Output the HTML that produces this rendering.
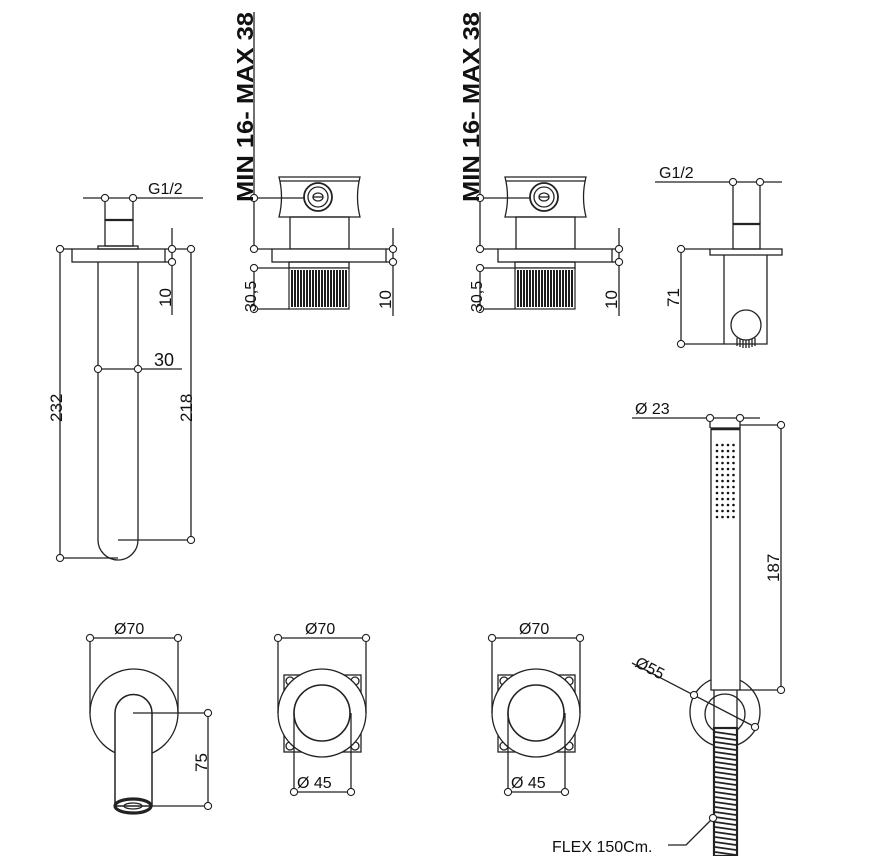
<!DOCTYPE html>
<html><head><meta charset="utf-8"><style>
html,body{margin:0;padding:0;background:#fff}
svg{display:block}
text{font-family:"Liberation Sans",sans-serif;fill:#111}
</style></head><body>
<svg width="888" height="856" viewBox="0 0 888 856" xmlns="http://www.w3.org/2000/svg">
<defs>
<g id="dot"><circle r="3.6" fill="#fff" stroke="#222" stroke-width="1.1"/></g>
<g id="thread">
  <rect x="0" y="0" width="60" height="41" fill="#fff" stroke="#222" stroke-width="1.2"/>
  <path d="M3 2V39M6 2V39M9 2V39M12 2V39M15 2V39M18 2V39M21 2V39M24 2V39M27 2V39M30 2V39M33 2V39M36 2V39M39 2V39M42 2V39M45 2V39M48 2V39M51 2V39M54 2V39M57 2V39" stroke="#111" stroke-width="1.9"/>
</g>
<g id="valve" fill="none" stroke="#222" stroke-width="1.3">
  <path d="M279 177H360Q355 197 360 217H279Q284 197 279 177Z" fill="#fff"/>
  <line x1="280" y1="181" x2="359" y2="181"/>
  <circle cx="318" cy="197" r="14" stroke-width="1.8"/>
  <circle cx="318" cy="197" r="10"/>
  <ellipse cx="318" cy="197" rx="5" ry="4"/>
  <line x1="313" y1="197" x2="323" y2="197"/>
  <rect x="290" y="217" width="59" height="32"/>
  <rect x="272" y="249" width="114" height="13" fill="#fff"/>
  <rect x="289" y="262" width="60" height="6"/>
  <use href="#thread" x="289" y="268"/>
  <line x1="254" y1="12" x2="254" y2="249"/>
  <line x1="254" y1="198" x2="305" y2="198"/>
  <line x1="254" y1="249" x2="272" y2="249"/>
  <line x1="254" y1="268" x2="289" y2="268"/>
  <line x1="254" y1="309" x2="289" y2="309"/>
  <line x1="254" y1="268" x2="254" y2="309"/>
  <line x1="386" y1="249" x2="393" y2="249"/>
  <line x1="386" y1="262" x2="393" y2="262"/>
  <line x1="393" y1="228" x2="393" y2="316"/>
  <use href="#dot" x="254" y="198"/><use href="#dot" x="254" y="249"/>
  <use href="#dot" x="254" y="268"/><use href="#dot" x="254" y="309"/>
  <use href="#dot" x="393" y="249"/><use href="#dot" x="393" y="262"/>
</g>
<g id="vfront" fill="none" stroke="#222" stroke-width="1.3">
  <rect x="-38" y="-38" width="77" height="77"/>
  <circle cx="-32" cy="-32" r="4"/><circle cx="33" cy="-32" r="4"/>
  <circle cx="-32" cy="33" r="4"/><circle cx="33" cy="33" r="4"/>
  <circle cx="0" cy="0" r="44" fill="#fff"/>
  <circle cx="0" cy="0" r="28" stroke-width="1.6"/>
  <line x1="-44" y1="-75" x2="-44" y2="0"/><line x1="44" y1="-75" x2="44" y2="0"/>
  <line x1="-44" y1="-75" x2="44" y2="-75"/>
  <line x1="-28" y1="0" x2="-28" y2="79"/><line x1="29" y1="0" x2="29" y2="79"/>
  <line x1="-28" y1="79" x2="29" y2="79"/>
  <use href="#dot" x="-44" y="-75"/><use href="#dot" x="44" y="-75"/>
  <use href="#dot" x="-28" y="79"/><use href="#dot" x="29" y="79"/>
</g>
</defs>

<g fill="none" stroke="#222" stroke-width="1.3">
  <line x1="83" y1="198" x2="203" y2="198"/>
  <line x1="105" y1="198" x2="105" y2="220"/><line x1="133" y1="198" x2="133" y2="220"/>
  <rect x="105" y="220" width="28" height="26"/>
  <line x1="105" y1="220" x2="133" y2="220" stroke-width="2.2"/>
  <rect x="98" y="246" width="40" height="3"/>
  <rect x="72" y="249" width="93" height="13"/>
  <path d="M98 262V540A20 20 0 0 0 138 540V262"/>
  <line x1="60" y1="249" x2="72" y2="249"/>
  <line x1="60" y1="249" x2="60" y2="558"/>
  <line x1="60" y1="558" x2="118" y2="558"/>
  <line x1="165" y1="249" x2="191" y2="249"/>
  <line x1="165" y1="262" x2="172" y2="262"/>
  <line x1="172" y1="228" x2="172" y2="315"/>
  <line x1="191" y1="249" x2="191" y2="540"/>
  <line x1="118" y1="540" x2="191" y2="540"/>
  <line x1="98" y1="369" x2="182" y2="369"/>
  <use href="#dot" x="105" y="198"/><use href="#dot" x="133" y="198"/>
  <use href="#dot" x="60" y="249"/><use href="#dot" x="60" y="558"/>
  <use href="#dot" x="172" y="249"/><use href="#dot" x="172" y="262"/>
  <use href="#dot" x="191" y="249"/><use href="#dot" x="191" y="540"/>
  <use href="#dot" x="98" y="369"/><use href="#dot" x="138" y="369"/>
</g>
<text x="148" y="194" font-size="16">G1/2</text>
<text x="154" y="366" font-size="18">30</text>
<text transform="translate(62,422) rotate(-90)" font-size="17">232</text>
<text transform="translate(192,422) rotate(-90)" font-size="17">218</text>
<text transform="translate(171,307) rotate(-90)" font-size="17">10</text>

<use href="#valve"/>
<use href="#valve" x="226"/>
<text transform="translate(253,202) rotate(-90)" font-size="23" font-weight="bold" textLength="190" lengthAdjust="spacingAndGlyphs">MIN 16- MAX 38</text>
<text transform="translate(479,202) rotate(-90)" font-size="23" font-weight="bold" textLength="190" lengthAdjust="spacingAndGlyphs">MIN 16- MAX 38</text>
<text transform="translate(256,312) rotate(-90)" font-size="16">30,5</text>
<text transform="translate(482,312) rotate(-90)" font-size="16">30,5</text>
<text transform="translate(391,309) rotate(-90)" font-size="17">10</text>
<text transform="translate(617,309) rotate(-90)" font-size="17">10</text>

<g fill="none" stroke="#222" stroke-width="1.3">
  <line x1="655" y1="182" x2="782" y2="182"/>
  <line x1="733" y1="182" x2="733" y2="224"/><line x1="760" y1="182" x2="760" y2="224"/>
  <rect x="733" y="224" width="27" height="25"/>
  <line x1="733" y1="224" x2="760" y2="224" stroke-width="2.2"/>
  <rect x="710" y="249" width="72" height="6"/>
  <path d="M724 255V344H767V255"/>
  <circle cx="746" cy="325" r="15" fill="#fff"/>
  <path d="M737 338V346M740 339V347M743 340V348M746 340V348M749 340V348M752 339V347M755 338V346" stroke-width="1.3"/>
  <line x1="681" y1="249" x2="710" y2="249"/>
  <line x1="681" y1="344" x2="724" y2="344"/>
  <line x1="681" y1="249" x2="681" y2="344"/>
  <use href="#dot" x="733" y="182"/><use href="#dot" x="760" y="182"/>
  <use href="#dot" x="681" y="249"/><use href="#dot" x="681" y="344"/>
</g>
<text x="659" y="178" font-size="16">G1/2</text>
<text transform="translate(679,307) rotate(-90)" font-size="17">71</text>

<g fill="none" stroke="#222" stroke-width="1.3">
  <line x1="632" y1="418" x2="760" y2="418"/>
  <line x1="710" y1="418" x2="710" y2="428"/><line x1="740" y1="418" x2="740" y2="428"/>
  <circle cx="725" cy="712" r="35"/>
  <circle cx="725" cy="714" r="20"/>
  <rect x="711" y="428" width="29" height="262" fill="#fff"/>
  <line x1="711" y1="429" x2="740" y2="429" stroke-width="2.5"/>
  <path d="M714 690V728M737 690V728"/>
  <line x1="740" y1="425" x2="781" y2="425"/>
  <line x1="740" y1="690" x2="781" y2="690"/>
  <line x1="781" y1="425" x2="781" y2="690"/>
  <line x1="632" y1="663" x2="757" y2="728"/>
  <use href="#dot" x="710" y="418"/><use href="#dot" x="740" y="418"/>
  <use href="#dot" x="781" y="425"/><use href="#dot" x="781" y="690"/>
  <use href="#dot" x="694" y="695"/><use href="#dot" x="755" y="727"/>
  <rect x="714" y="728" width="23" height="128" stroke-width="2.2" fill="#fff"/>
  <path d="M715 732L736 735M715 737L736 740M715 742L736 745M715 747L736 750M715 752L736 755M715 757L736 760M715 762L736 765M715 767L736 770M715 772L736 775M715 777L736 780M715 782L736 785M715 787L736 790M715 792L736 795M715 797L736 800M715 802L736 805M715 807L736 810M715 812L736 815M715 817L736 820M715 822L736 825M715 827L736 830M715 832L736 835M715 837L736 840M715 842L736 845M715 847L736 850M715 852L736 855" stroke-width="1.8"/>
  <path d="M668 845H686L713 818"/>
  <use href="#dot" x="713" y="818"/>
</g>
<g fill="#111">
  <g id="dr"><circle cx="717" cy="445" r="1.3"/><circle cx="722.5" cy="445" r="1.3"/><circle cx="728" cy="445" r="1.3"/><circle cx="733.5" cy="445" r="1.3"/></g>
  <use href="#dr" y="6"/><use href="#dr" y="12"/><use href="#dr" y="18"/><use href="#dr" y="24"/><use href="#dr" y="30"/><use href="#dr" y="36"/><use href="#dr" y="42"/><use href="#dr" y="48"/><use href="#dr" y="54"/><use href="#dr" y="60"/><use href="#dr" y="66"/><use href="#dr" y="72"/>
</g>
<text x="635" y="414" font-size="16">Ø 23</text>
<text transform="translate(779,582) rotate(-90)" font-size="17">187</text>
<text transform="translate(634,666) rotate(27)" font-size="16">Ø55</text>
<text x="552" y="852" font-size="16">FLEX 150Cm.</text>

<g fill="none" stroke="#222" stroke-width="1.3">
  <line x1="90" y1="638" x2="178" y2="638"/>
  <line x1="90" y1="638" x2="90" y2="713"/><line x1="178" y1="638" x2="178" y2="713"/>
  <circle cx="134" cy="713" r="44"/>
  <path d="M115 806V713A18.5 18.5 0 0 1 152 713V806Z" fill="#fff" stroke-width="1.5"/>
  <ellipse cx="133" cy="806" rx="18" ry="7" stroke-width="3.2"/>
  <ellipse cx="133" cy="806" rx="9" ry="3"/>
  <line x1="133" y1="713" x2="208" y2="713"/>
  <line x1="152" y1="806" x2="208" y2="806"/>
  <line x1="208" y1="713" x2="208" y2="806"/>
  <use href="#dot" x="90" y="638"/><use href="#dot" x="178" y="638"/>
  <use href="#dot" x="208" y="713"/><use href="#dot" x="208" y="806"/>
</g>
<text x="114" y="634" font-size="16">Ø70</text>
<text transform="translate(207,772) rotate(-90)" font-size="17">75</text>

<use href="#vfront" x="322" y="713"/>
<use href="#vfront" x="536" y="713"/>
<text x="305" y="634" font-size="16">Ø70</text>
<text x="519" y="634" font-size="16">Ø70</text>
<text x="297" y="788" font-size="16">Ø 45</text>
<text x="511" y="788" font-size="16">Ø 45</text>
</svg>
</body></html>
